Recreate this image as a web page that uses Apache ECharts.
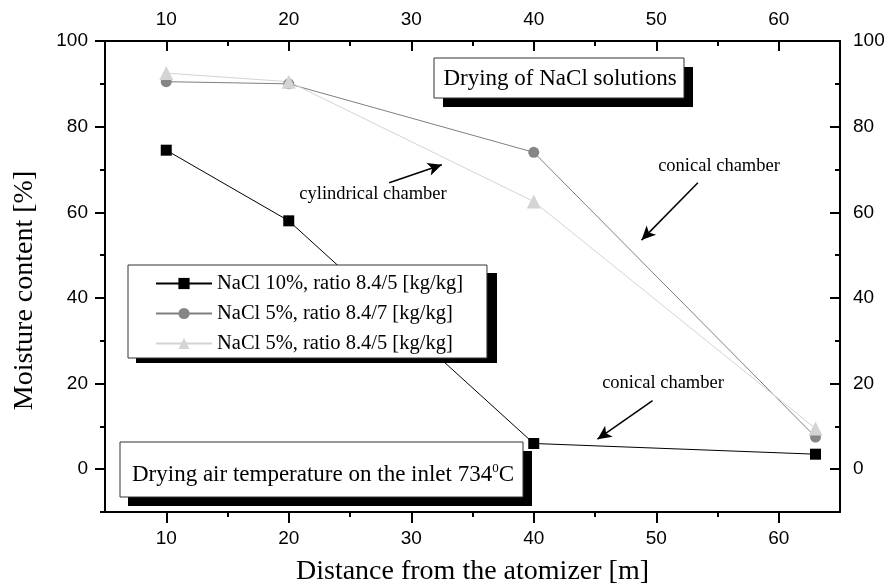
<!DOCTYPE html>
<html>
<head>
<meta charset="utf-8">
<script src="https://cdn.jsdelivr.net/npm/echarts@6/dist/echarts.min.js"></script>
<style>
  html, body { margin: 0; padding: 0; background: #fff; }
  #chart { width: 888px; height: 586px; }
</style>
</head>
<body>
<div id="chart"></div>
<script>
// Distance from the atomizer [m]
const distances = [10, 20, 40, 63];
// Moisture content [%]
const nacl10_84_5 = [74.5, 58, 6, 3.5];
const nacl5_84_7 = [90.5, 90, 74, 7.5];
const nacl5_84_5 = [92.5, 90.5, 62.5, 9.5];

const seriesNames = [
  'NaCl 10%, ratio 8.4/5 [kg/kg]',
  'NaCl 5%, ratio 8.4/7 [kg/kg]',
  'NaCl 5%, ratio 8.4/5 [kg/kg]'
];

const xMajor = [10, 20, 30, 40, 50, 60];
const xMinor = [15, 25, 35, 45, 55];
const yMajor = [0, 20, 40, 60, 80, 100];
const yMinor = [-10, 10, 30, 50, 70, 90];

const serif = 'Liberation Serif';
const sans = 'Liberation Sans';

function pairs(xs, ys) { return xs.map((x, i) => [x, ys[i]]); }

function xAx(pos, values, len, inside, labels) {
  return {
    type: 'value', position: pos, min: 5, max: 65, offset: 0,
    axisLine: { show: labels, onZero: false, lineStyle: { color: '#000', width: 2 } },
    axisTick: { show: true, customValues: values, length: len, inside: inside,
                lineStyle: { color: '#000', width: 2 } },
    axisLabel: labels ? { show: true, customValues: values, color: '#000',
                fontFamily: sans, fontSize: 19, margin: pos === 'top' ? 12 : 17 } : { show: false },
    splitLine: { show: false }
  };
}
function yAx(pos, values, len, inside, labels) {
  return {
    type: 'value', position: pos, min: -10, max: 100, offset: 0,
    axisLine: { show: labels, onZero: false, lineStyle: { color: '#000', width: 2 } },
    axisTick: { show: true, customValues: values, length: len, inside: inside,
                lineStyle: { color: '#000', width: 2 } },
    axisLabel: labels ? { show: true, customValues: values, color: '#000',
                fontFamily: sans, fontSize: 19, margin: pos === 'left' ? 17 : 13 } : { show: false },
    splitLine: { show: false }
  };
}

const chart = echarts.init(document.getElementById('chart'));

const xAxes = [
  xAx('bottom', xMajor, 11, false, true),
  xAx('bottom', xMinor, 5, false, false),
  xAx('top', xMajor, 10, true, true),
  xAx('top', xMinor, 5, true, false)
];
xAxes[0].name = 'Distance from the atomizer [m]';
xAxes[0].nameLocation = 'middle';
xAxes[0].nameGap = 46;
xAxes[0].nameTextStyle = { fontFamily: serif, fontSize: 28, color: '#000' };

const yAxes = [
  yAx('left', yMajor, 10, false, true),
  yAx('left', yMinor, 5, false, false),
  yAx('right', yMajor, 10, true, true),
  yAx('right', yMinor, 5, true, false)
];
yAxes[0].name = 'Moisture content [%]';
yAxes[0].nameLocation = 'middle';
yAxes[0].nameGap = 66;
yAxes[0].nameTextStyle = { fontFamily: serif, fontSize: 28, color: '#000', padding: [0, 28, 0, 0] };

// Arrows for the chamber annotations, given in axis units
const arrowStyle = { color: '#000', width: 1.5, type: 'solid' };
const arrows = [
  [[28.2, 66.9], [32.5, 71.1]],
  [[53.4, 66.9], [48.8, 53.5]],
  [[49.7, 16.0], [45.2, 7.0]]
];

const labelFont = '18.5px "Liberation Serif"';
const boxFont = '23px "Liberation Serif"';

const option = {
  animation: false,
  backgroundColor: '#fff',
  grid: { left: 105, right: 48, top: 41, bottom: 74, containLabel: false, outerBoundsMode: 'none' },
  xAxis: xAxes,
  yAxis: yAxes,
  legend: {
    orient: 'vertical',
    left: 128, top: 265,
    padding: [8, 24, 4, 27],
    itemWidth: 56, itemHeight: 14, itemGap: 9,
    backgroundColor: '#fff',
    borderColor: '#333', borderWidth: 1,
    textStyle: { fontFamily: serif, fontSize: 20.5, color: '#000' },
    data: seriesNames
  },
  series: [
    {
      name: seriesNames[0], type: 'line', data: pairs(distances, nacl10_84_5),
      symbol: 'rect', symbolSize: 11,
      itemStyle: { color: '#000' }, lineStyle: { color: '#000', width: 1 },
      markLine: {
        silent: true, symbol: ['none', 'arrow'], symbolSize: [10, 14],
        lineStyle: arrowStyle, label: { show: false },
        data: arrows.map(a => [{ coord: a[0] }, { coord: a[1] }])
      }
    },
    {
      name: seriesNames[1], type: 'line', data: pairs(distances, nacl5_84_7),
      symbol: 'circle', symbolSize: 11,
      itemStyle: { color: '#858585' }, lineStyle: { color: '#808080', width: 1 }
    },
    {
      name: seriesNames[2], type: 'line', data: pairs(distances, nacl5_84_5),
      symbol: 'triangle', symbolSize: 14,
      itemStyle: { color: '#d4d4d4' }, lineStyle: { color: '#d4d4d4', width: 1 }
    }
  ],
  graphic: [
    // legend shadow, behind the legend box
    { type: 'rect', shape: { x: 136, y: 273, width: 361, height: 90 }, style: { fill: '#000' }, z: 3 },
    // title box
    { type: 'rect', shape: { x: 443, y: 67, width: 250, height: 40 }, style: { fill: '#000' }, z: 100 },
    { type: 'rect', shape: { x: 434, y: 58, width: 250, height: 40 }, style: { fill: '#fff', stroke: '#333', lineWidth: 1 }, z: 101 },
    { type: 'text', x: 560, y: 79, z: 102,
      style: { text: 'Drying of NaCl solutions', font: boxFont, fill: '#000', align: 'center', verticalAlign: 'middle' } },
    // inlet temperature box
    { type: 'rect', shape: { x: 128, y: 451, width: 404, height: 55 }, style: { fill: '#000' }, z: 100 },
    { type: 'rect', shape: { x: 120, y: 442, width: 403, height: 55 }, style: { fill: '#fff', stroke: '#333', lineWidth: 1 }, z: 101 },
    { type: 'text', x: 132, y: 475, z: 102,
      style: {
        text: 'Drying air temperature on the inlet 734{sup|0}C',
        font: boxFont, fill: '#000', verticalAlign: 'middle',
        rich: { sup: { fontFamily: serif, fontSize: 13, verticalAlign: 'top', padding: [0, 0, 12, 0] } }
      } },
    // chamber labels
    { type: 'text', x: 373, y: 194, z: 102,
      style: { text: 'cylindrical chamber', font: labelFont, fill: '#000', align: 'center', verticalAlign: 'middle' } },
    { type: 'text', x: 719, y: 166, z: 102,
      style: { text: 'conical chamber', font: labelFont, fill: '#000', align: 'center', verticalAlign: 'middle' } },
    { type: 'text', x: 663, y: 383, z: 102,
      style: { text: 'conical chamber', font: labelFont, fill: '#000', align: 'center', verticalAlign: 'middle' } }
  ]
};

chart.setOption(option);
</script>
</body>
</html>
